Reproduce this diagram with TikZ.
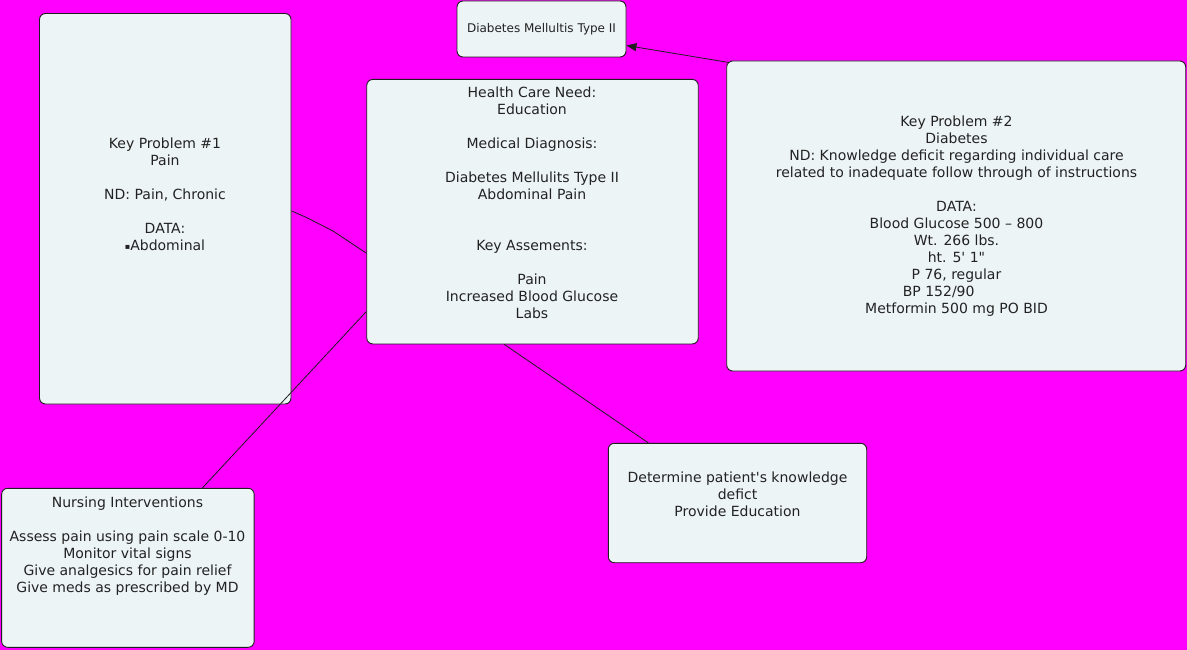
\documentclass[tikz,border=0pt]{standalone}
\usepackage{fontspec}
\setmainfont{DejaVu Sans}
\usetikzlibrary{arrows.meta,positioning}
\definecolor{mapbg}{RGB}{255,0,255}
\definecolor{boxfill}{RGB}{237,244,246}
\definecolor{boxline}{RGB}{30,30,30}
\definecolor{inktext}{RGB}{34,34,34}
\newcommand{\smallbullet}{\raisebox{1.2pt}{\fontsize{8pt}{8pt}\selectfont ▪}}
\tikzset{%
   concept/.style={rectangle, rounded corners=6pt, draw=boxline, fill=boxfill, line width=0.9pt, inner sep=0pt},
   words/.style={align=center, inner sep=0pt, text=inktext, font=\fontsize{14pt}{17pt}\selectfont, anchor=north},
   link/.style={draw=boxline, line width=0.8pt},
}

\begin{document}
\begin{tikzpicture}[x=1pt, y=-1pt]
   \fill[mapbg] (0,0) rectangle (1187,650);
   \useasboundingbox (0,0) rectangle (1187,650);
   % boxes
   \node[concept, minimum width=169pt, minimum height=56pt, text=inktext, font=\fontsize{12pt}{14pt}\selectfont] (dmt) at (541.5,29) {Diabetes Mellultis Type II};
   \node[concept, minimum width=251.5pt, minimum height=390.5pt] (kp1) at (165.25,208.75) {};
   \node[concept, minimum width=331.5pt, minimum height=264.5pt] (hcn) at (532.5,211.7) {};
   \node[concept, minimum width=459pt, minimum height=310pt] (kp2) at (956.2,216) {};
   \node[concept, minimum width=252.5pt, minimum height=159pt] (ni) at (127.9,567.8) {};
   \node[concept, minimum width=258.4pt, minimum height=119.4pt] (de) at (737.5,503) {};
   % texts
   \node[words] (kp1t) at (165,137.7) {Key Problem \#1\\Pain\\[17pt]ND: Pain, Chronic\\[17pt]DATA:\\\smallbullet Abdominal};
   \node[words] (hcnt) at (532,87) {Health Care Need:\\Education\\[17pt]Medical Diagnosis:\\[17pt]Diabetes Mellulits Type II\\Abdominal Pain\\[34pt]Key Assements:\\[17pt]Pain\\Increased Blood Glucose\\Labs};
   \node[words] (kp2t) at (956.5,116) {Key Problem \#2\\Diabetes\\ND: Knowledge deficit regarding individual care\\related to inadequate follow through of instructions\\[17pt]DATA:\\Blood Glucose 500 -- 800\\Wt. 266 lbs.\\ht. 5\textquotesingle{} 1\textquotedbl\\P 76, regular\\BP 152/90\phantom{0000}\\Metformin 500 mg PO BID};
   \node[words] (nit) at (127.5,496.8) {Nursing Interventions\\[17pt]Assess pain using pain scale 0-10\\Monitor vital signs\\Give analgesics for pain relief\\Give meds as prescribed by MD};
   \node[words] (det) at (737.5,471.7) {Determine patient\textquotesingle s knowledge\\defict\\Provide Education};
   % links
   \coordinate (k1) at (306.5,217.5);
   \coordinate (k2) at (333,231);
   \draw[link, -{Triangle[length=10pt, width=8pt]}] ([shift={(3,2)}]kp2.north west) -- (dmt.-11);
   \draw[link] (kp1.-1.5) -- (k1) -- (k2) -- (hcn.194);
   \draw[link] (hcn.211.6) -- (ni.47);
   \draw[link] (hcn.258.7) -- (de.146.2);
\end{tikzpicture}
\end{document}
